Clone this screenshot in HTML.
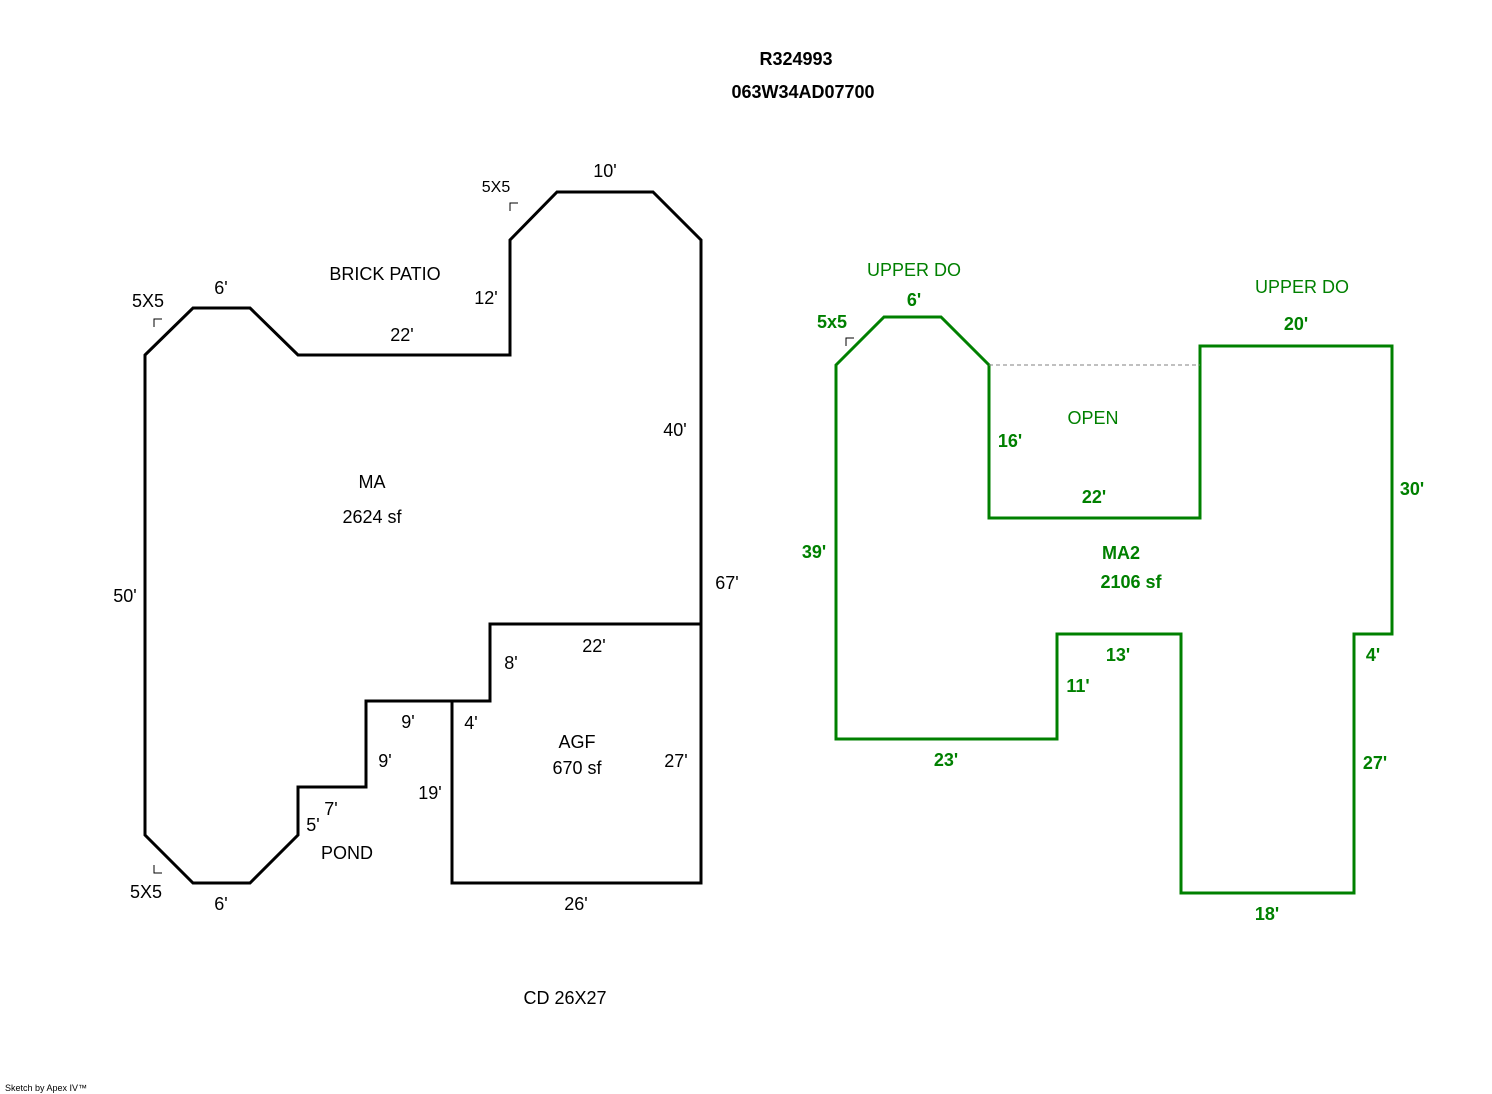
<!DOCTYPE html>
<html><head><meta charset="utf-8"><style>
html,body{margin:0;padding:0;background:#fff;}
svg{display:block;}
text{font-family:"Liberation Sans",sans-serif;font-size:18px;}
.b{fill:#000;}
.g{fill:#008000;font-weight:bold;}
.gn{fill:#008000;}
</style></head><body>
<svg width="1492" height="1094" viewBox="0 0 1492 1094" xmlns="http://www.w3.org/2000/svg">
<text x="796" y="65" text-anchor="middle" font-weight="bold" class="b">R324993</text>
<text x="803" y="98" text-anchor="middle" font-weight="bold" class="b">063W34AD07700</text>

<g fill="none" stroke="#000" stroke-width="3">
<polygon points="145,355 193,308 250,308 298,355 510,355 510,240 557,192 653,192 701,240 701,624 490,624 490,701 366,701 366,787 298,787 298,835 250,883 193,883 145,835"/>
<polyline points="452,701 452,883 701,883 701,624"/>
</g>
<g fill="none" stroke="#000" stroke-width="1">
<polyline points="510,211 510,203 518,203"/>
<polyline points="154,327 154,319 162,319"/>
<polyline points="154,865 154,873 162,873"/>
</g>

<g text-anchor="middle" class="b">
<text x="605" y="177">10'</text>
<text x="496" y="192" style="font-size:16px">5X5</text>
<text x="385" y="280">BRICK PATIO</text>
<text x="148" y="307">5X5</text>
<text x="221" y="294">6'</text>
<text x="486" y="304">12'</text>
<text x="402" y="341">22'</text>
<text x="675" y="436">40'</text>
<text x="372" y="488">MA</text>
<text x="372" y="523">2624 sf</text>
<text x="727" y="589">67'</text>
<text x="125" y="602">50'</text>
<text x="594" y="652">22'</text>
<text x="511" y="669">8'</text>
<text x="408" y="728">9'</text>
<text x="471" y="729">4'</text>
<text x="577" y="748">AGF</text>
<text x="577" y="774">670 sf</text>
<text x="676" y="767">27'</text>
<text x="385" y="767">9'</text>
<text x="430" y="799">19'</text>
<text x="331" y="815">7'</text>
<text x="313" y="831">5'</text>
<text x="347" y="859">POND</text>
<text x="146" y="898">5X5</text>
<text x="221" y="910">6'</text>
<text x="576" y="910">26'</text>
<text x="565" y="1004">CD 26X27</text>
</g>

<g fill="none" stroke="#008000" stroke-width="3">
<polygon points="836,365 884,317 941,317 989,365 989,518 1200,518 1200,346 1392,346 1392,634 1354,634 1354,893 1181,893 1181,634 1057,634 1057,739 836,739"/>
</g>
<line x1="989" y1="365" x2="1200" y2="365" stroke="#808080" stroke-width="1" stroke-dasharray="4,3"/>
<polyline points="846,346 846,338 854,338" fill="none" stroke="#000" stroke-width="1"/>

<g text-anchor="middle">
<text x="914" y="276" class="gn">UPPER DO</text>
<text x="1302" y="293" class="gn">UPPER DO</text>
<text x="914" y="306" class="g">6'</text>
<text x="832" y="328" class="g">5x5</text>
<text x="1296" y="330" class="g">20'</text>
<text x="1093" y="424" class="gn">OPEN</text>
<text x="1010" y="447" class="g">16'</text>
<text x="1412" y="495" class="g">30'</text>
<text x="1094" y="503" class="g">22'</text>
<text x="1121" y="559" class="g">MA2</text>
<text x="1131" y="588" class="g">2106 sf</text>
<text x="814" y="558" class="g">39'</text>
<text x="1118" y="661" class="g">13'</text>
<text x="1373" y="661" class="g">4'</text>
<text x="1078" y="692" class="g">11'</text>
<text x="946" y="766" class="g">23'</text>
<text x="1375" y="769" class="g">27'</text>
<text x="1267" y="920" class="g">18'</text>
</g>
<text x="5" y="1091" style="font-size:9px" class="b">Sketch by Apex IV™</text>
</svg>
</body></html>
